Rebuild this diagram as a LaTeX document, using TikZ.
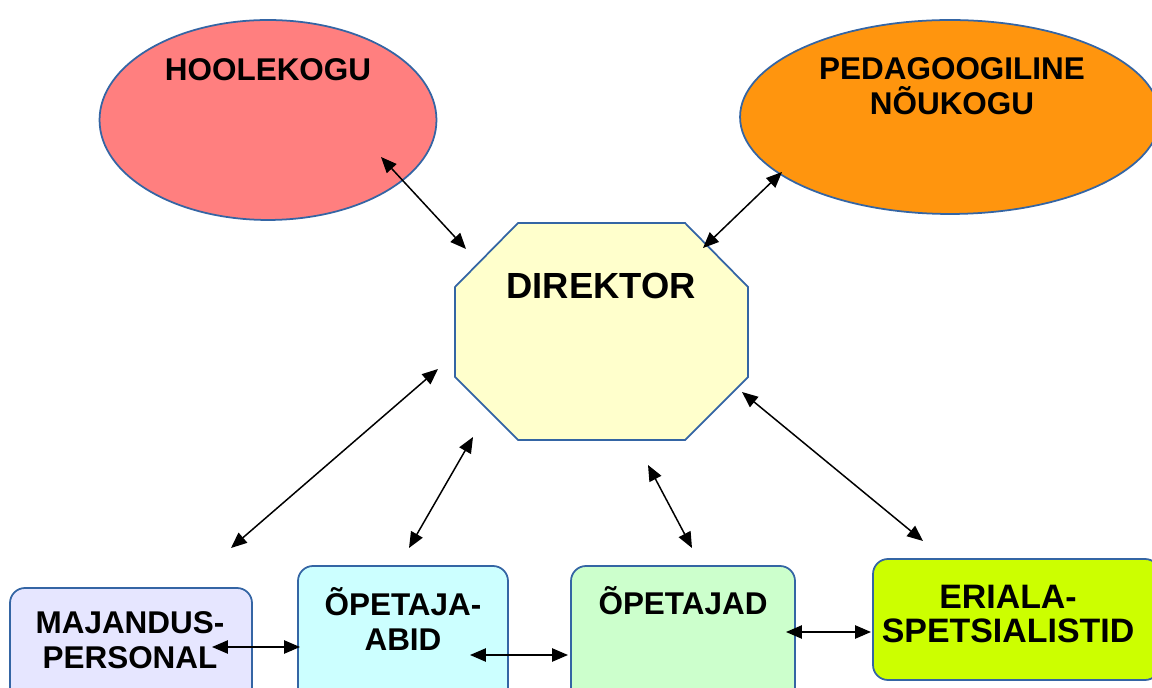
\documentclass[tikz,border=0pt]{standalone}
\usepackage{fontspec}
\setmainfont{Liberation Sans}
\usetikzlibrary{arrows.meta}
\definecolor{rim}{HTML}{3465A4}
\definecolor{hoolefill}{HTML}{FF7F7F}
\definecolor{pedafill}{HTML}{FF950E}
\definecolor{dirfill}{HTML}{FFFFCC}
\definecolor{majfill}{HTML}{E6E6FF}
\definecolor{abifill}{HTML}{CCFFFF}
\definecolor{opefill}{HTML}{CCFFCC}
\definecolor{erifill}{HTML}{CCFF00}
\tikzset{
  shapeline/.style={draw=rim,line width=1pt},
  boxline/.style={shapeline,rounded corners=0.3cm},
  lbl/.style={font=\fontsize{17.9}{19.8}\selectfont\bfseries,align=center,inner sep=0pt},
  dbl/.style={<->,>={Triangle[length=9pt,width=7.5pt]},line width=0.85pt}
}
\begin{document}
\begin{tikzpicture}[x=0.02cm,y=-0.02cm]
\useasboundingbox (0,0) rectangle (1152,688);
\clip (0,0) rectangle (1152,688);
\coordinate (d1) at (518,223);
\coordinate (d2) at (685,223);
\coordinate (d3) at (748,287);
\coordinate (d4) at (748,377);
\coordinate (d5) at (685,440);
\coordinate (d6) at (518,440);
\coordinate (d7) at (455,377);
\coordinate (d8) at (455,287);
\filldraw[shapeline,fill=hoolefill](268,120) ellipse [x radius=3.37cm,y radius=2cm];
\filldraw[shapeline,fill=pedafill](950,117) ellipse [x radius=4.2cm,y radius=1.94cm];
\filldraw[shapeline,fill=dirfill](d1)--(d2)--(d3)--(d4)--(d5)--(d6)--(d7)--(d8)--cycle;
\filldraw[boxline,fill=majfill](10,588) rectangle (252,710);
\filldraw[boxline,fill=abifill](298,566) rectangle (508,710);
\filldraw[boxline,fill=opefill](571,566) rectangle (795,710);
\filldraw[boxline,fill=erifill](873,559) rectangle (1160,680);
\node[lbl] (hoole) at (268,70) {HOOLEKOGU};
\node[lbl] (peda) at (952,86) {PEDAGOOGILINE\\NÕUKOGU};
\node[lbl,font=\fontsize{20.7}{24}\selectfont\bfseries] (dir) at (601,286) {DIREKTOR};
\node[lbl] (maj) at (130,640) {MAJANDUS-\\PERSONAL};
\node[lbl] (abi) at (403,619) {ÕPETAJA-\\ABID};
\node[lbl] (ope) at (683,601) {ÕPETAJAD};
\node[lbl,font=\fontsize{19.3}{19.3}\selectfont\bfseries] (eri) at (1008,614) {ERIALA-\\SPETSIALISTID};
\coordinate (a1) at (381,157);
\coordinate (a2) at (466,249);
\coordinate (b1) at (703,248);
\coordinate (b2) at (782,172);
\coordinate (c1) at (438,369);
\coordinate (c2) at (231,548);
\coordinate (e1) at (473,437);
\coordinate (e2) at (409,548);
\coordinate (f1) at (648,465);
\coordinate (f2) at (692,548);
\coordinate (g1) at (742,392);
\coordinate (g2) at (923,541);
\coordinate (h1) at (212,647);
\coordinate (h2) at (300,647);
\coordinate (i1) at (470,655);
\coordinate (i2) at (568,655);
\coordinate (j1) at (786,632);
\coordinate (j2) at (871,632);
\draw[dbl](a1)--(a2);
\draw[dbl](b1)--(b2);
\draw[dbl](c1)--(c2);
\draw[dbl](e1)--(e2);
\draw[dbl](f1)--(f2);
\draw[dbl](g1)--(g2);
\draw[dbl](h1)--(h2);
\draw[dbl](i1)--(i2);
\draw[dbl](j1)--(j2);
\end{tikzpicture}
\end{document}
